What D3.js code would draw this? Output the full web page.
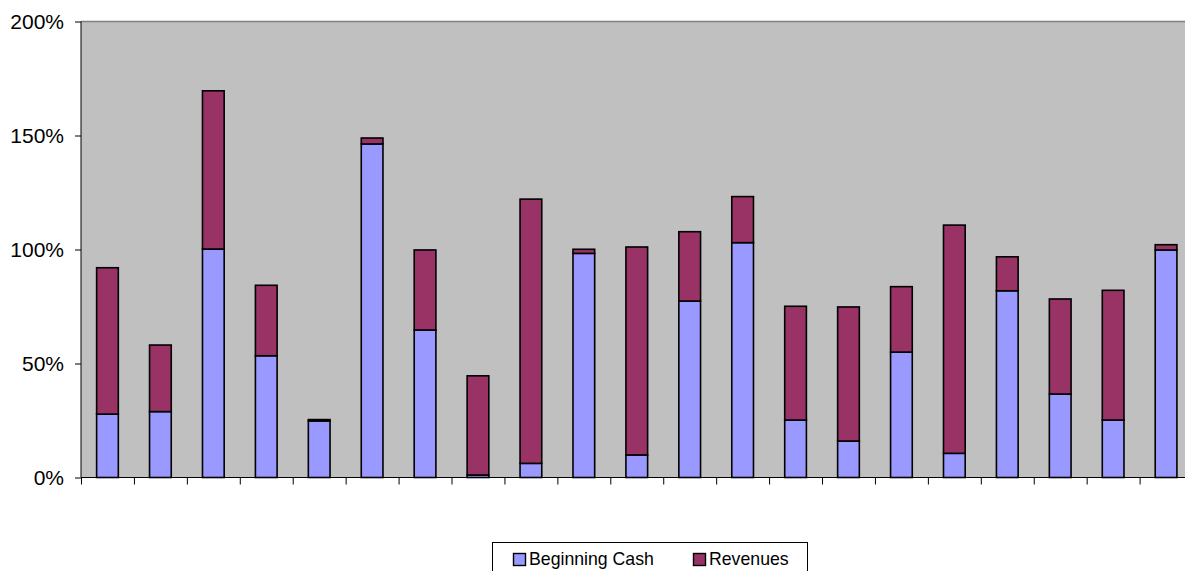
<!DOCTYPE html>
<html>
<head>
<meta charset="utf-8">
<title>Beginning Cash and Revenues</title>
<script src="https://cdn.jsdelivr.net/npm/d3@7"></script>
<style>
    body { margin: 0; background: #fff; }
    svg { display: block; font-family: "Liberation Sans", Arial, sans-serif; }
</style>
</head>
<body>
<script>
    // categories have no visible labels in the chart
    let categories = d3.range(1, 22).map(String);
    let beginningCash = [27.8, 28.9, 100.2, 53.4, 24.8, 146.3, 64.7, 1.1, 6.2, 98.3, 9.9,
                         77.4, 103.0, 25.2, 16.0, 55.0, 10.6, 81.9, 36.6, 25.2, 99.8];
    let revenues = [64.2, 29.2, 69.4, 30.9, 0.6, 2.6, 35.1, 43.5, 115.9, 1.8, 91.2,
                    30.4, 20.2, 49.9, 58.8, 28.7, 100.1, 14.9, 41.7, 56.9, 2.3];
    let seriesNames = ["Beginning Cash", "Revenues"];
    let seriesColors = ["#9999ff", "#993366"];
    let yTicks = [0, 50, 100, 150, 200];

    const W = 1185, H = 571;
    const plotL = 81, plotT = 21.5, plotB = 477.5, plotR = 81 + 21 * 52.93;

    let rows = categories.map((c, i) => ({cat: c, "Beginning Cash": beginningCash[i], "Revenues": revenues[i]}));
    let stacked = d3.stack().keys(seriesNames)(rows);

    let x = d3.scaleBand().domain(categories).range([plotL, plotR]).paddingInner(0.59).paddingOuter(0.295);
    let xEdge = d3.scaleLinear().domain([0, categories.length]).range([plotL, plotR]);
    let y = d3.scaleLinear().domain([0, 200]).range([plotB, plotT]);

    let svg = d3.select("body").append("svg").attr("width", W).attr("height", H);

    // plot area
    svg.append("rect").attr("x", plotL).attr("y", plotT)
        .attr("width", plotR - plotL).attr("height", plotB - plotT)
        .attr("fill", "#c0c0c0");
    svg.append("line").attr("x1", plotL).attr("x2", plotR).attr("y1", plotT).attr("y2", plotT)
        .attr("stroke", "#808080").attr("stroke-width", 1.5);

    // bars
    svg.append("g").selectAll("g")
        .data(stacked)
        .join("g")
        .attr("fill", (d, i) => seriesColors[i])
        .selectAll("rect")
        .data(d => d)
        .join("rect")
        .attr("x", d => x(d.data.cat))
        .attr("width", x.bandwidth())
        .attr("y", d => y(d[1]))
        .attr("height", d => y(d[0]) - y(d[1]))
        .attr("stroke", "#000")
        .attr("stroke-width", 1.6);

    // y axis
    let yAxis = svg.append("g").attr("transform", `translate(${plotL},0)`)
        .call(d3.axisLeft(y).tickValues(yTicks).tickFormat(d => d + "%").tickSize(6).tickPadding(11));
    yAxis.select(".domain").attr("stroke", "#000").attr("d", `M0,${plotT}V${plotB}`);
    yAxis.selectAll(".tick line").attr("stroke", "#000");
    yAxis.selectAll(".tick text").attr("font-size", 21).attr("fill", "#000")
        .attr("font-family", "Liberation Sans, Arial, sans-serif");

    // x axis: boundary ticks only
    let xAxis = svg.append("g").attr("transform", `translate(0,${plotB})`)
        .call(d3.axisBottom(xEdge).tickValues(d3.range(0, categories.length + 1)).tickFormat("").tickSize(7));
    xAxis.select(".domain").attr("stroke", "#000").attr("d", `M${plotL},0H${plotR}`);
    xAxis.selectAll(".tick line").attr("stroke", "#000");

    // legend
    let lg = svg.append("g");
    lg.append("rect").attr("x", 492.5).attr("y", 542.5).attr("width", 315).attr("height", 40)
        .attr("fill", "#fff").attr("stroke", "#000").attr("stroke-width", 1);
    let legendX = [513, 693];
    seriesNames.forEach((name, i) => {
        lg.append("rect").attr("x", legendX[i] + 0.5).attr("y", 553.5).attr("width", 12).attr("height", 12)
            .attr("fill", seriesColors[i]).attr("stroke", "#000").attr("stroke-width", 1.4);
        lg.append("text").attr("x", legendX[i] + 16).attr("y", 565)
            .attr("font-size", 17.7).attr("fill", "#000").text(name);
    });
</script>
</body>
</html>
